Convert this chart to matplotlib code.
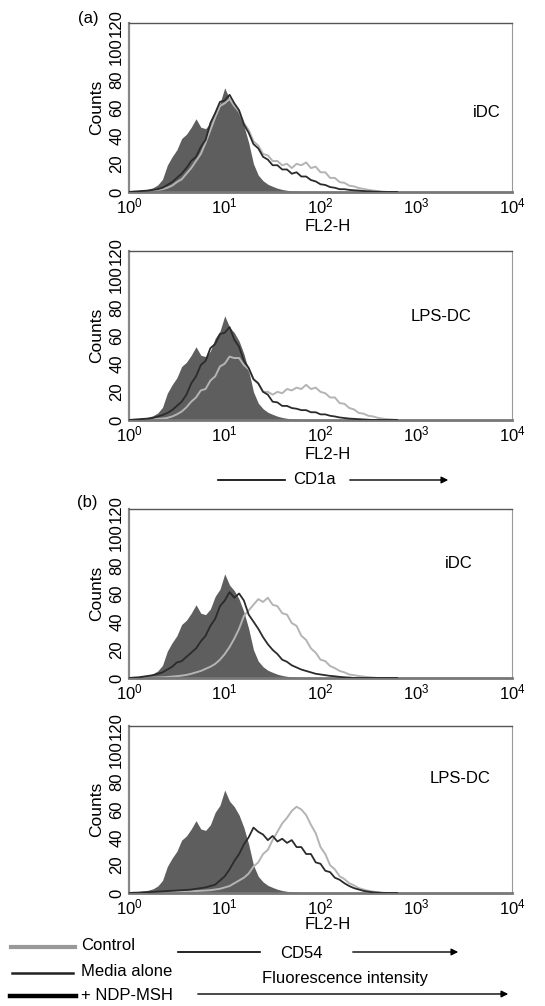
import numpy as np
import matplotlib
matplotlib.use("Agg")
import matplotlib.pyplot as plt
from matplotlib.lines import Line2D
from matplotlib.patches import FancyArrowPatch

plt.rcParams["font.family"] = ["Liberation Sans", "DejaVu Sans"]
plt.rcParams["mathtext.fontset"] = "custom"
plt.rcParams["mathtext.rm"] = "Liberation Sans"
plt.rcParams["mathtext.default"] = "regular"

# -- data: log10(FL2-H) channel positions and counts --------------------------
LOG_FL = [0.00, 0.05, 0.10, 0.15, 0.20, 0.25, 0.30, 0.35, 0.40, 0.45,
          0.50, 0.55, 0.60, 0.65, 0.70, 0.75, 0.80, 0.85, 0.90, 0.95,
          1.00, 1.05, 1.10, 1.15, 1.20, 1.25, 1.30, 1.35, 1.40, 1.45,
          1.50, 1.55, 1.60, 1.65, 1.70, 1.75, 1.80, 1.85, 1.90, 1.95,
          2.00, 2.05, 2.10, 2.15, 2.20, 2.25, 2.30, 2.35, 2.40, 2.45,
          2.50, 2.55, 2.60, 2.65, 2.70, 2.75, 2.80]

# filled histogram (same in every panel)
ISOTYPE = [0.5, 1, 1, 1.5, 2, 3, 5, 9, 19, 25,
           30, 38, 41, 46, 52, 46, 45, 49, 58, 63,
           74, 66, 62, 56, 47, 35, 20, 12, 8, 5.5,
           4, 2.7, 1.8, 1.2, 0.8, 0.6, 0.4, 0.3, 0, 0,
           0, 0, 0, 0, 0, 0, 0, 0, 0, 0,
           0, 0, 0, 0, 0, 0, 0]

IDC_CD1A_DARK = [0, 0.3, 0.5, 0.8, 1, 1.5, 2, 3, 5, 7,
                 10, 13, 17, 22, 25, 32, 37, 49, 56, 64,
                 65, 69, 63, 58, 48, 42, 34, 31, 25, 23,
                 19, 19, 16, 16, 13, 14, 11, 11, 8.5, 7.5,
                 5.5, 5, 3.5, 3, 2, 2, 1.5, 1.2, 1, 0.7,
                 0.5, 0.3, 0.2, 0, 0, 0, 0]
IDC_CD1A_GRAY = [0, 0.2, 0.3, 0.5, 0.8, 1, 1.5, 2, 3, 4.5,
                 7, 9, 13, 17, 22, 27, 35, 44, 53, 61,
                 63, 66, 61, 57, 49, 44, 36, 33, 27, 26,
                 22, 22, 19, 20, 17, 20, 19, 21, 17, 18,
                 14, 14, 10, 10, 7, 6.5, 4.5, 4, 2.8, 2.2,
                 1.5, 1, 0.6, 0.3, 0, 0, 0]

LPS_CD1A_DARK = [0, 0.3, 0.5, 0.8, 1, 1.5, 2.5, 3.5, 5, 7,
                 10, 13, 18, 26, 31, 39, 42, 51, 54, 61,
                 62, 66, 57, 52, 42, 37, 29, 26, 20, 18,
                 13, 12.5, 10, 10, 8.5, 8, 7, 7, 5.5, 5.5,
                 4, 4, 3, 2.5, 1.8, 1.4, 1, 0.8, 0.6, 0.4,
                 0.2, 0, 0, 0, 0, 0, 0]
LPS_CD1A_GRAY = [0, 0, 0.2, 0.3, 0.4, 0.5, 0.8, 1, 1.5, 2.5,
                 4, 6, 9, 13, 16, 21, 22, 28, 31, 38,
                 40, 45, 44, 44, 39, 36, 29, 26, 20, 20,
                 18, 20, 19, 22, 21, 23, 22, 25, 22, 23,
                 20, 19, 16, 16, 12, 11.5, 8.5, 7.5, 5, 4.5,
                 3, 2.5, 1.5, 1, 0.6, 0.3, 0]

IDC_CD54_DARK = [0, 0.3, 0.5, 1, 1.5, 2, 3, 4, 6, 8,
                 11, 12, 15, 18, 21, 26, 30, 37, 42, 51,
                 55, 61, 57, 60, 55, 45, 40, 35, 29, 24,
                 20, 17, 13, 11.5, 9, 7.5, 6, 5, 4, 3,
                 2.5, 2, 1.5, 1.2, 0.8, 0.5, 0.3, 0, 0, 0,
                 0, 0, 0, 0, 0, 0, 0]
IDC_CD54_GRAY = [0, 0, 0, 0, 0.2, 0.3, 0.4, 0.5, 0.7, 1,
                 1.3, 1.7, 2.2, 3, 4, 5, 6.5, 8, 10, 13,
                 17, 22, 28, 35, 44, 48, 52, 56, 54, 57,
                 52, 51, 46, 45, 39, 37, 30, 27, 21, 18,
                 13, 12, 8.5, 7, 5, 4, 2.5, 2, 1.4, 1,
                 0.6, 0.3, 0, 0, 0, 0, 0]

LPS_CD54_DARK = [0, 0.2, 0.3, 0.5, 0.6, 0.8, 1, 1.2, 1.4, 1.6,
                 1.8, 2, 2.2, 2.5, 3, 3.5, 4, 5, 6, 9,
                 12, 17, 23, 28, 35, 40, 47, 44, 42, 38,
                 41, 37, 39, 36, 38, 33, 33, 28, 28, 22,
                 21, 16, 15, 11, 9.5, 7, 5, 3.5, 2.5, 1.5,
                 1, 0.5, 0.3, 0, 0, 0, 0]
LPS_CD54_GRAY = [0, 0, 0, 0, 0, 0.2, 0.3, 0.4, 0.5, 0.6,
                 0.7, 0.8, 1, 1.2, 1.4, 1.6, 1.8, 2, 2.5, 3,
                 4, 5, 7, 9, 11, 14, 19, 22, 28, 31,
                 38, 44, 50, 54, 59, 62, 60, 56, 49, 43,
                 33, 28, 20, 17, 12, 10, 7, 5.5, 3.5, 2.5,
                 1.5, 1, 0.5, 0.2, 0, 0, 0]

PANELS = [
    # (top px, bottom px, cell label, label pos (axes), dark, gray, FL2-H y)
    (23, 192, "iDC", (0.935, 0.473), IDC_CD1A_DARK, IDC_CD1A_GRAY, -0.207),
    (251, 420, "LPS-DC", (0.815, 0.615), LPS_CD1A_DARK, LPS_CD1A_GRAY, -0.207),
    (509, 678, "iDC", (0.862, 0.675), IDC_CD54_DARK, IDC_CD54_GRAY, None),
    (726, 893, "LPS-DC", (0.864, 0.683), LPS_CD54_DARK, LPS_CD54_GRAY, -0.19),
]

W, H = 545, 1006
fig = plt.figure(figsize=(W / 100, H / 100), dpi=100)


def fx(px):
    return px / W


def fy(py):
    return 1 - py / H


x = 10 ** np.array(LOG_FL)
for top, bot, cell, (tx, ty), dark, gray, xl_y in PANELS:
    ax = fig.add_axes([fx(129), fy(bot), (512 - 129) / W, (bot - top) / H])
    ax.fill_between(x, 0, ISOTYPE, color="#5e5e5e", lw=0, zorder=1)
    ax.plot(x, gray, color="#b4b4b4", lw=1.4, zorder=2)
    ax.plot(x, dark, color="#2b2b2b", lw=1.3, zorder=3)
    ax.set_xscale("log")
    ax.set_xlim(1, 1e4)
    ax.set_ylim(0, 120)
    ax.set_xticks([1, 10, 100, 1000, 10000],
                  [r"$10^{0}$", r"$10^{1}$", r"$10^{2}$", r"$10^{3}$", r"$10^{4}$"])
    ax.xaxis.set_minor_locator(matplotlib.ticker.NullLocator())
    ax.set_yticks([0, 20, 40, 60, 80, 100, 120])
    for lab in ax.get_yticklabels():
        lab.set_rotation(90)
        lab.set_va("center")
    ax.tick_params(length=0, labelsize=12)
    ax.tick_params(axis="y", pad=3.5)
    ax.tick_params(axis="x", pad=3)
    ax.spines["top"].set_color("#555555")
    ax.spines["top"].set_linewidth(1.0)
    ax.spines["right"].set_color("#999999")
    ax.spines["right"].set_linewidth(0.8)
    ax.spines["left"].set_color("#888888")
    ax.spines["left"].set_linewidth(1.6)
    ax.spines["bottom"].set_color("#777777")
    ax.spines["bottom"].set_linewidth(2.0)
    ax.text(-0.085, 0.5, "Counts", transform=ax.transAxes, rotation=90,
            ha="center", va="center", fontsize=12.5)
    ax.text(tx, ty, cell, transform=ax.transAxes, ha="center", va="center",
            fontsize=12)
    if xl_y is not None:
        ax.text(0.52, xl_y, "FL2-H", transform=ax.transAxes, ha="center",
                va="center", fontsize=12)

fig.text(fx(88), fy(18), "(a)", ha="center", va="center", fontsize=12)
fig.text(fx(87), fy(502), "(b)", ha="center", va="center", fontsize=12)


def hline(x0, x1, y, lw=1.2, color="black"):
    fig.add_artist(Line2D([fx(x0), fx(x1)], [fy(y), fy(y)],
                          transform=fig.transFigure, lw=lw, color=color))


def arrow(x0, x1, y):
    fig.add_artist(FancyArrowPatch((fx(x0), fy(y)), (fx(x1), fy(y)),
                                   transform=fig.transFigure, arrowstyle="-|>",
                                   mutation_scale=10, lw=1.0, color="black"))


# CD1a axis caption
hline(218, 285, 480)
fig.text(fx(314), fy(480), "CD1a", ha="center", va="center", fontsize=12)
arrow(347, 451, 480)

# CD54 axis caption
hline(178, 260, 952)
fig.text(fx(301), fy(953), "CD54", ha="center", va="center", fontsize=12)
arrow(350, 461, 952)

fig.text(fx(345), fy(979), "Fluorescence intensity", ha="center",
         va="center", fontsize=12)
arrow(195, 511, 994)

# legend
hline(11, 75, 947, lw=3.0, color="#999999")
fig.text(fx(81), fy(946), "Control", ha="left", va="center", fontsize=12)
hline(12, 73, 973, lw=1.8, color="#222222")
fig.text(fx(81), fy(972), "Media alone", ha="left", va="center", fontsize=12)
hline(10, 76, 996, lw=3.2, color="black")
fig.text(fx(81), fy(996), "+ NDP-MSH", ha="left", va="center", fontsize=12)

fig.savefig("out.png", dpi=100)
